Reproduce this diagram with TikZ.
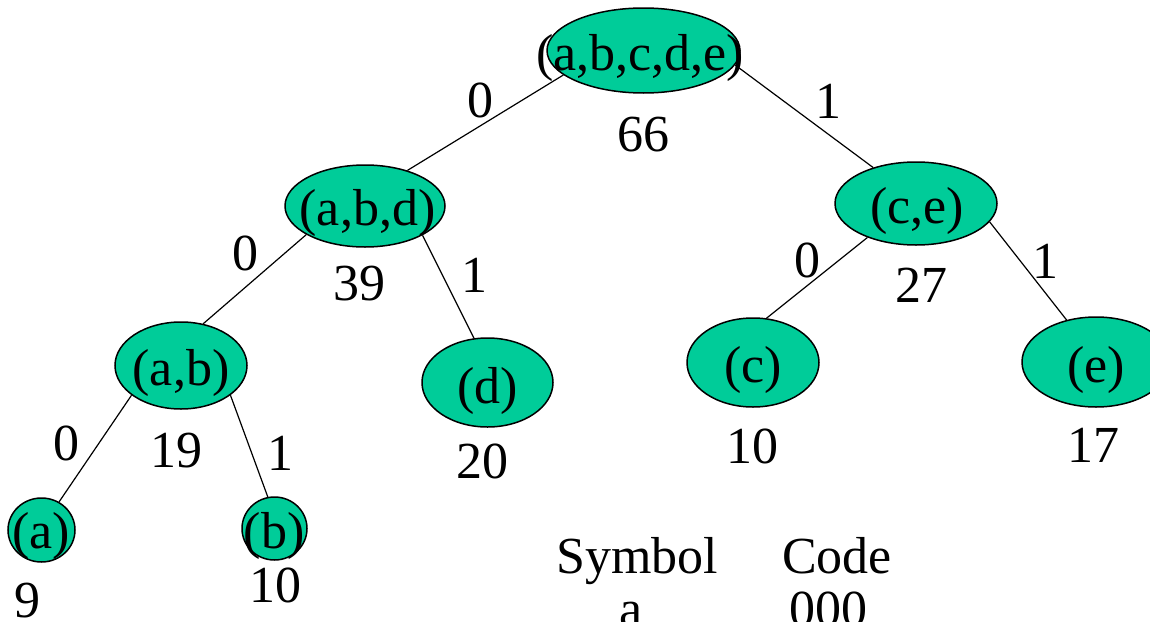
\documentclass[tikz,border=0pt]{standalone}
\usepackage{fontspec}
\setmainfont{Liberation Serif}
\usetikzlibrary{shapes.geometric}
\definecolor{nodegreen}{RGB}{0,204,153}
\begin{document}
\begin{tikzpicture}[x=1pt,y=-1pt,
  oval/.style={ellipse,draw=black,line width=1.5pt,fill=nodegreen,inner sep=0pt},
  txt/.style={anchor=base,inner sep=0pt,font=\fontsize{52}{60}\selectfont},
  edge/.style={draw=black,line width=1.2pt}]
\path[use as bounding box,clip] (0,0) rectangle (1150,621);
% tree nodes (ovals)
\node[oval,minimum width=193pt,minimum height=85pt] (root) at (643.5,50.5) {};
\node[oval,minimum width=160pt,minimum height=82pt] (abd) at (365,206) {};
\node[oval,minimum width=162pt,minimum height=83pt] (ce) at (916,203.5) {};
\node[oval,minimum width=132pt,minimum height=87pt] (ab) at (181,365.5) {};
\node[oval,minimum width=131pt,minimum height=89pt] (d) at (487.5,382.5) {};
\node[oval,minimum width=132pt,minimum height=89pt] (c) at (753,362.5) {};
\node[oval,minimum width=148pt,minimum height=90pt] (e) at (1096,362) {};
\node[oval,minimum width=67pt,minimum height=64pt] (a) at (41.5,530) {};
\node[oval,minimum width=65pt,minimum height=63pt] (b) at (274.5,528.5) {};
% connectors
\draw[edge] (root.197) -- (abd.40.6);
\draw[edge] (root.-9.4) -- (ce.140.5);
\draw[edge] (abd.206.6) -- (ab.62.6);
\draw[edge] (abd.-27) -- (d.107.6);
\draw[edge] (ce.215.7) -- (c.73);
\draw[edge] (ce.-14.6) -- (e.125.3);
\draw[edge] (ab.211) -- (a.58.6);
\draw[edge] (ab.-31) -- (b.102);
% node texts
\node[txt] (troot) at (640,70) {(a,b,c,d,e)};
\node[txt] (tabd) at (367.5,225) {(a,b,d)};
\node[txt] (tce) at (917,223) {(c,e)};
\node[txt] (tab) at (181,385) {(a,b)};
\node[txt] (td) at (487.5,403) {(d)};
\node[txt] (tc) at (753,382) {(c)};
\node[txt] (te) at (1096,382) {(e)};
\node[txt] (ta) at (41,548) {(a)};
\node[txt] (tb) at (274,548) {(b)};
% weights
\node[txt] (w66) at (643,151) {66};
\node[txt] (w39) at (359,300) {39};
\node[txt] (w27) at (921,302) {27};
\node[txt] (w19) at (176,467) {19};
\node[txt] (w20) at (482.5,478) {20};
\node[txt] (w10c) at (752.5,463) {10};
\node[txt] (w17) at (1093,462) {17};
\node[txt] (w9) at (27,617) {9};
\node[txt] (w10b) at (275,602) {10};
% edge labels
\node[txt] (l1) at (480,117) {0};
\node[txt] (l2) at (828,118) {1};
\node[txt] (l3) at (245,270) {0};
\node[txt] (l4) at (474,292) {1};
\node[txt] (l5) at (807,277) {0};
\node[txt] (l6) at (1045,278) {1};
\node[txt] (l7) at (66,460) {0};
\node[txt] (l8) at (280,470) {1};
% code table
\node[txt] (hsym) at (637,573) {Symbol};
\node[txt] (hcode) at (837,573) {Code};
\node[txt] (sa) at (631,626) {a};
\node[txt] (ca) at (828,626) {000};
\end{tikzpicture}
\end{document}
